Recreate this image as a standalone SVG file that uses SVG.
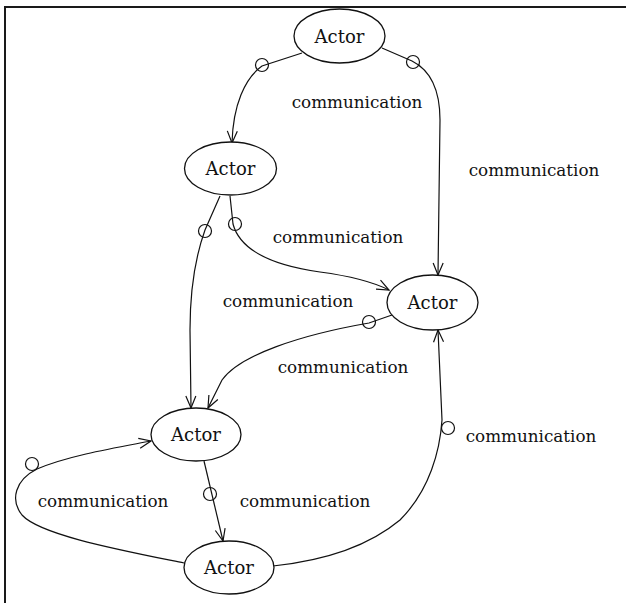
<svg xmlns="http://www.w3.org/2000/svg" width="626" height="603" viewBox="0 0 626 603">
  <style>
    .frame { stroke: #1a1a1a; stroke-width: 2; fill: none; }
    .actor ellipse { fill: #fff; stroke: #111; stroke-width: 1.3; }
    .actor text { font-family: "DejaVu Serif", "Liberation Serif", serif; font-size: 18px; fill: #111; text-anchor: middle; }
    .edge { fill: none; stroke: #111; stroke-width: 1.2; }
    .port { fill: none; stroke: #111; stroke-width: 1.2; }
    .label { font-family: "DejaVu Serif", "Liberation Serif", serif; font-size: 16.8px; fill: #111; text-anchor: middle; }
  </style>
  <defs>
    <marker id="open-arrow" viewBox="0 0 14 12" refX="13" refY="6" markerWidth="14" markerHeight="12" markerUnits="userSpaceOnUse" orient="auto">
      <path d="M1,1 L13,6 L1,11" fill="none" stroke="#111" stroke-width="1.2"/>
    </marker>
  </defs>
  <rect width="626" height="603" fill="#fff"/>
  <!-- frame: top and left edges only -->
  <path class="frame" d="M5,603 L5,7 L626,7"/>

  <g id="connectors">
    <!-- top actor -> second actor -->
    <path class="edge" marker-end="url(#open-arrow)" d="M302,53 L262,66 C245,78 233,105 232,143"/>
    <circle class="port" cx="262" cy="65" r="6.5"/>
    <!-- top actor -> right actor -->
    <path class="edge" marker-end="url(#open-arrow)" d="M382,48 L412,61 C430,70 440,88 440,120 L438,275"/>
    <circle class="port" cx="413" cy="62" r="6.5"/>
    <!-- second actor -> right actor -->
    <path class="edge" marker-end="url(#open-arrow)" d="M230,196 L233,224 C240,250 270,265 320,272 C350,276 375,283 389,290"/>
    <circle class="port" cx="235" cy="224" r="6.5"/>
    <!-- second actor -> middle actor -->
    <path class="edge" marker-end="url(#open-arrow)" d="M220,196 L205,230 C196,255 190,290 190,330 L191,408"/>
    <circle class="port" cx="205" cy="231" r="6.5"/>
    <!-- right actor -> middle actor -->
    <path class="edge" marker-end="url(#open-arrow)" d="M392,315 L369,323 C300,335 240,355 222,380 L208,408"/>
    <circle class="port" cx="369" cy="322" r="6.5"/>
    <!-- bottom actor -> middle actor (loop on the left) -->
    <path class="edge" marker-end="url(#open-arrow)" d="M184,563 C120,550 40,535 22,515 C10,500 15,480 37,469 C70,455 120,447 151,441"/>
    <circle class="port" cx="32" cy="464" r="6.5"/>
    <!-- middle actor -> bottom actor -->
    <path class="edge" marker-end="url(#open-arrow)" d="M204,461 L223,541"/>
    <circle class="port" cx="210" cy="494" r="6.5"/>
    <!-- bottom actor -> right actor -->
    <path class="edge" marker-end="url(#open-arrow)" d="M273,566 C330,560 370,545 400,520 C430,490 440,450 442,420 L438,330"/>
    <circle class="port" cx="448" cy="428" r="6.5"/>

    <text class="label" x="357" y="108">communication</text>
    <text class="label" x="534" y="176">communication</text>
    <text class="label" x="338" y="243">communication</text>
    <text class="label" x="288" y="307">communication</text>
    <text class="label" x="343" y="373">communication</text>
    <text class="label" x="531" y="442">communication</text>
    <text class="label" x="103" y="507">communication</text>
    <text class="label" x="305" y="507">communication</text>
  </g>

  <g id="actor-top" class="actor">
    <ellipse cx="339.5" cy="36" rx="45.5" ry="27"/>
    <text x="339.5" y="42.5">Actor</text>
  </g>
  <g id="actor-second" class="actor">
    <ellipse cx="230.5" cy="168.5" rx="46" ry="26.5"/>
    <text x="230.5" y="175">Actor</text>
  </g>
  <g id="actor-right" class="actor">
    <ellipse cx="432.5" cy="302.5" rx="45.5" ry="27.5"/>
    <text x="432.5" y="309">Actor</text>
  </g>
  <g id="actor-middle" class="actor">
    <ellipse cx="196" cy="434.5" rx="45" ry="26.5"/>
    <text x="196" y="441">Actor</text>
  </g>
  <g id="actor-bottom" class="actor">
    <ellipse cx="229" cy="567.5" rx="45" ry="26.5"/>
    <text x="229" y="574">Actor</text>
  </g>
</svg>
